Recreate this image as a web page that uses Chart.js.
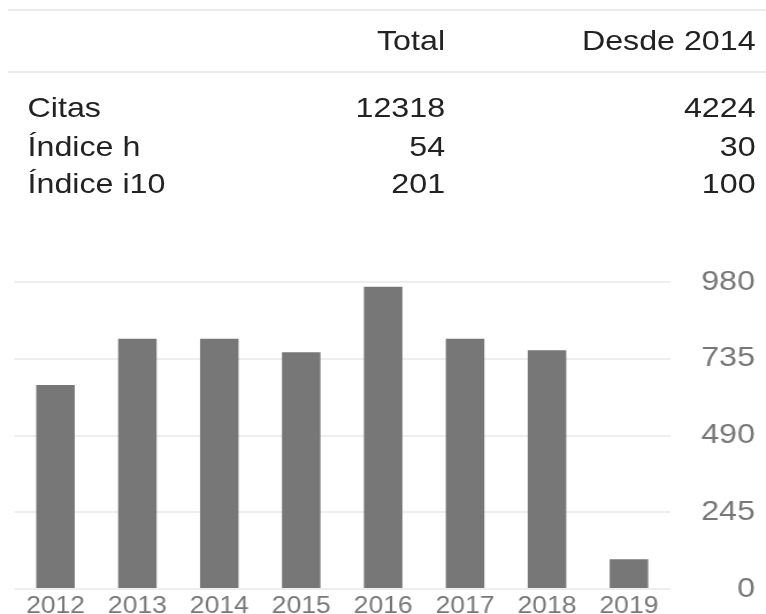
<!DOCTYPE html>
<html>
<head>
<meta charset="utf-8">
<script src="https://cdn.jsdelivr.net/npm/chart.js@4/dist/chart.umd.min.js"></script>
<style>
  html, body { margin: 0; padding: 0; background: #fff; overflow: hidden; }
  body { width: 766px; height: 614px; }
  #wrap {
    position: absolute; left: 0; top: 0; width: 666px; height: 614px;
    transform: scaleX(1.15); transform-origin: 0 0;
    font-family: Arial, "Liberation Sans", Helvetica, sans-serif;
  }
  .rule { position: absolute; left: 7px; right: 0; height: 2px; background: #ebebeb; }
  .cell { position: absolute; font-size: 28px; line-height: 28px; color: #222; white-space: nowrap; }
  .num { text-align: right; }
  #chartBox { position: absolute; left: 0; top: 250px; width: 666px; height: 364px; }
</style>
</head>
<body>
<div id="wrap">
  <div class="rule" style="top:9px"></div>
  <div class="rule" style="top:71px"></div>
  <div id="stats"></div>
  <div id="chartBox"><canvas id="cites-chart"></canvas></div>
</div>
<script>
(function () {
  "use strict";

  // tabla de indices
  const headers = ["Total", "Desde 2014"];
  const rowLabels = ["Citas", "Índice h", "Índice i10"];
  const totalValues = [12318, 54, 201];
  const sinceValues = [4224, 30, 100];

  // citas por año
  const years = ["2012", "2013", "2014", "2015", "2016", "2017", "2018", "2019"];
  const citations = [651, 799, 799, 756, 965, 799, 762, 95];
  const yTicks = [0, 245, 490, 735, 980];

  const stats = document.getElementById("stats");
  function addCell(text, left, right, top, isNum) {
    const d = document.createElement("div");
    d.className = "cell" + (isNum ? " num" : "");
    d.textContent = text;
    d.style.top = top + "px";
    if (left != null) d.style.left = left + "px";
    if (right != null) d.style.right = right + "px";
    stats.appendChild(d);
  }
  const colRight = [279, 9];
  headers.forEach((h, i) => addCell(h, null, colRight[i], 27, true));
  const rowTops = [94, 133, 170];
  rowLabels.forEach((label, r) => {
    addCell(label, 24, null, rowTops[r], false);
    addCell(String(totalValues[r]), null, colRight[0], rowTops[r], true);
    addCell(String(sinceValues[r]), null, colRight[1], rowTops[r], true);
  });

  if (typeof Chart === "undefined") return;

  new Chart(document.getElementById("cites-chart"), {
    type: "bar",
    data: {
      labels: years,
      datasets: [{
        label: "Citas",
        data: citations,
        backgroundColor: "#777777",
        borderWidth: 0,
        barPercentage: 0.47,
        categoryPercentage: 1,
      }],
    },
    options: {
      responsive: true,
      maintainAspectRatio: false,
      animation: false,
      layout: { padding: { left: 12.6, right: 9.5, top: 32, bottom: 0 } },
      plugins: { legend: { display: false }, tooltip: { enabled: false } },
      scales: {
        x: {
          grid: { display: false, drawTicks: false },
          border: { display: false },
          ticks: {
            color: "#777",
            padding: 4,
            maxRotation: 0,
            autoSkip: false,
            font: { family: "Arial, 'Liberation Sans', sans-serif", size: 23 },
          },
          afterFit(scale) { scale.height = 25; },
        },
        y: {
          position: "right",
          min: 0,
          max: 980,
          grid: { color: "#eeeeee", lineWidth: 2, drawTicks: false },
          border: { display: false },
          ticks: {
            color: "#777",
            crossAlign: "far",
            font: { family: "Arial, 'Liberation Sans', sans-serif", size: 28 },
          },
          afterBuildTicks(scale) { scale.ticks = yTicks.map((v) => ({ value: v })); },
          afterFit(scale) { scale.width = 74; },
        },
      },
    },
  });
})();
</script>
</body>
</html>
